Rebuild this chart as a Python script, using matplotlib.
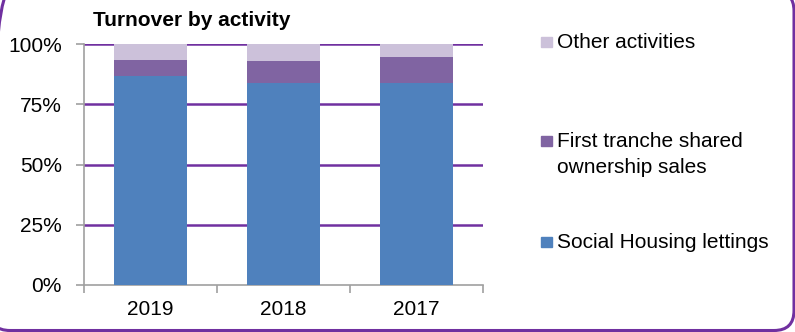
import matplotlib
matplotlib.use("Agg")
import matplotlib.pyplot as plt
from matplotlib.patches import FancyBboxPatch, Rectangle
import numpy as np

plt.rcParams['font.family'] = ['Liberation Sans', 'DejaVu Sans']

years = ["2019", "2018", "2017"]
social_housing = [86.6, 83.7, 83.7]
first_tranche = [6.9, 9.4, 10.8]
other_activities = [6.5, 6.9, 5.5]

series_names = ["Social Housing lettings", "First tranche shared\nownership sales", "Other activities"]
colors = ["#4F81BD", "#8064A2", "#CCC1DA"]
grid_color = "#7030A0"
axis_color = "#A0A0A0"
FS = 15

fig = plt.figure(figsize=(7.95, 3.32), dpi=100)
W, H = 795, 332

# full-figure overlay in pixel units for the frame, title and legend
bg = fig.add_axes([0, 0, 1, 1], zorder=5)
bg.set_xlim(0, W)
bg.set_ylim(H, 0)
bg.axis('off')
bg.patch.set_alpha(0)

ax = fig.add_axes([84 / W, 1 - 285 / H, (483 - 84) / W, (285 - 44) / H])

x = np.arange(len(years))
bottom = np.zeros(len(years))
for vals, col in zip([social_housing, first_tranche, other_activities], colors):
    ax.bar(x, vals, width=0.555, bottom=bottom, color=col, zorder=3)
    bottom += np.array(vals)

ax.set_xlim(-0.5, len(years) - 0.5)
ax.set_ylim(0, 100)
ax.set_yticks([0, 25, 50, 75, 100])
ax.set_yticklabels([f"{v}%" for v in [0, 25, 50, 75, 100]], fontsize=FS)
for v in [25, 50, 75, 100]:
    ax.axhline(v, color=grid_color, lw=1.8, zorder=2)

ax.set_xticks(x)
ax.set_xticklabels(years, fontsize=FS)
ax.tick_params(axis='x', length=0, pad=11)
ax.set_xticks(np.arange(-0.5, len(years), 1), minor=True)
ax.tick_params(axis='x', which='minor', length=6, color=axis_color, width=1.2)
ax.tick_params(axis='y', length=6, color=axis_color, width=1.2, pad=10)
for s in ['top', 'right']:
    ax.spines[s].set_visible(False)
for s in ['left', 'bottom']:
    ax.spines[s].set_color(axis_color)
    ax.spines[s].set_linewidth(1.2)

bg.text(93, 20, "Turnover by activity", fontsize=FS, fontweight='bold',
        va='center', ha='left')

# legend entries, listed top to bottom like the stack
legend_rows = [(2, 42, 42), (1, 141, 154.5), (0, 242, 242)]
for idx, ymark, ytext in legend_rows:
    bg.add_patch(Rectangle((541, ymark - 5), 11, 10, color=colors[idx]))
    bg.text(557, ytext, series_names[idx], fontsize=FS,
            va='center', ha='left', linespacing=1.45)

frame = FancyBboxPatch((-10, -9), 804, 339.5,
                       boxstyle="round,pad=0,rounding_size=20",
                       fill=False, edgecolor=grid_color, lw=2.2)
bg.add_patch(frame)

fig.savefig("out.png", dpi=100)
